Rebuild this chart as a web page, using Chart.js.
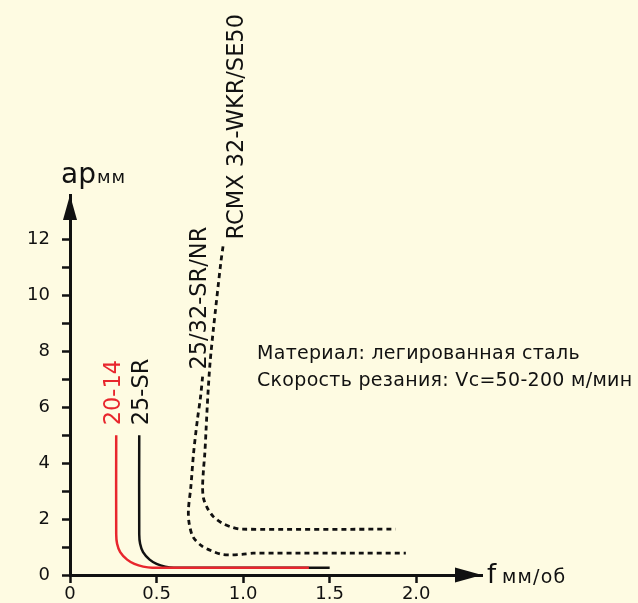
<!DOCTYPE html>
<html lang="ru">
<head>
<meta charset="UTF-8">
<title>Область применения: ap / f</title>
<script src="https://cdn.jsdelivr.net/npm/chart.js@4.4.0/dist/chart.umd.min.js"></script>
<style>
    body {
        margin: 0;
        background: #fefbe2;
    }
    canvas {
        display: block;
    }
</style>
</head>
<body>
<canvas id="chart" width="638" height="603"></canvas>
<script>
// подача f (мм/об) и глубина резания ap (мм) по каждой пластине
const feed2014 = [0.267, 0.267, 0.272, 0.29, 0.33, 0.372, 0.423, 0.475, 1.38];
const depth2014 = [5.0, 1.45, 1.12, 0.82, 0.55, 0.40, 0.30, 0.26, 0.26];

const feed25SR = [0.40, 0.40, 0.405, 0.422, 0.46, 0.50, 0.55, 0.60, 1.50];
const depth25SR = [5.0, 1.45, 1.12, 0.82, 0.55, 0.40, 0.30, 0.26, 0.26];

const feed2532 = [0.766, 0.754, 0.736, 0.714, 0.698, 0.684, 0.688, 0.711, 0.761, 0.819, 0.877, 0.925, 0.993, 1.058, 1.94];
const depth2532 = [7.1, 6.37, 5.56, 4.37, 3.15, 2.33, 1.86, 1.36, 1.04, 0.86, 0.74, 0.72, 0.74, 0.78, 0.78];

const feedRCMX = [0.884, 0.871, 0.828, 0.809, 0.796, 0.786, 0.779, 0.771, 0.766, 0.771, 0.794, 0.828, 0.877, 0.935, 0.993, 1.88];
const depthRCMX = [11.76, 11.17, 8.78, 7.59, 6.39, 5.2, 4.37, 3.76, 3.16, 2.75, 2.39, 2.09, 1.86, 1.71, 1.64, 1.64];

const seriesNames = ['20-14', '25-SR', '25/32-SR/NR', 'RCMX 32-WKR/SE50'];

const xTickValues = [0, 0.5, 1.0, 1.5, 2.0];
const xTickLabels = ['0', '0.5', '1.0', '1.5', '2.0'];
const yTickValues = [0, 1, 2, 3, 4, 5, 6, 7, 8, 9, 10, 11, 12];
const yTickLabels = ['0', '', '2', '', '4', '', '6', '', '8', '', '10', '', '12'];

const noteLines = ['Материал: легированная сталь', 'Скорость резания: Vc=50-200 м/мин'];

const FONT = "'DejaVu Sans', sans-serif";
const INK = '#111111';
const RED = '#e8262d';

function toPoints(xs, ys) {
    return xs.map((x, i) => ({ x: x, y: ys[i] }));
}

// подписи серий: сдвиг от первой точки кривой, текст повёрнут вертикально
const seriesLabels = [
    { dx: 4, dy: -10, color: RED },
    { dx: 9, dy: -10, color: INK },
    { dx: 3, dy: -7, color: INK },
    { dx: 20, dy: -7, color: INK }
];

const arrowsAndText = {
    id: 'arrowsAndText',
    afterDraw(chart) {
        const ctx = chart.ctx;
        const a = chart.chartArea;
        ctx.save();
        ctx.fillStyle = INK;

        // стрелки на концах осей
        ctx.beginPath();
        ctx.moveTo(a.left, a.top);
        ctx.lineTo(a.left - 7, a.top + 25);
        ctx.lineTo(a.left + 7, a.top + 25);
        ctx.closePath();
        ctx.fill();
        ctx.beginPath();
        ctx.moveTo(a.right, a.bottom);
        ctx.lineTo(a.right - 27, a.bottom - 7.5);
        ctx.lineTo(a.right - 27, a.bottom + 7.5);
        ctx.closePath();
        ctx.fill();

        // названия осей
        ctx.textBaseline = 'alphabetic';
        ctx.textAlign = 'left';
        ctx.font = '28px ' + FONT;
        ctx.fillText('ap', a.left - 9, a.top - 12);
        ctx.font = '18px ' + FONT;
        ctx.letterSpacing = '1px';
        ctx.fillText('мм', a.left + 27, a.top - 12);
        ctx.letterSpacing = '0px';
        ctx.font = '26px ' + FONT;
        ctx.fillText('f', a.right + 5, a.bottom + 8);
        ctx.font = '19px ' + FONT;
        ctx.letterSpacing = '1.2px';
        ctx.fillText('мм/об', a.right + 20, a.bottom + 8);

        // условия резания
        ctx.font = '19px ' + FONT;
        ctx.letterSpacing = '0.3px';
        ctx.fillText(noteLines[0], 257, 359);
        ctx.fillText(noteLines[1], 257, 386);
        ctx.letterSpacing = '0px';

        // вертикальные подписи над кривыми
        ctx.font = '22.5px ' + FONT;
        chart.data.datasets.forEach((ds, i) => {
            const p = chart.getDatasetMeta(i).data[0];
            const lab = seriesLabels[i];
            ctx.save();
            ctx.translate(p.x + lab.dx, p.y + lab.dy);
            ctx.rotate(-Math.PI / 2);
            ctx.fillStyle = lab.color;
            ctx.fillText(ds.label, 0, 0);
            ctx.restore();
        });
        ctx.restore();
    }
};

const lineBase = { showLine: true, pointRadius: 0, borderWidth: 2.5, tension: 0.3, fill: false };

new Chart(document.getElementById('chart'), {
    type: 'scatter',
    data: {
        datasets: [
            Object.assign({ label: seriesNames[0], data: toPoints(feed2014, depth2014), borderColor: RED }, lineBase),
            Object.assign({ label: seriesNames[1], data: toPoints(feed25SR, depth25SR), borderColor: INK }, lineBase),
            Object.assign({ label: seriesNames[2], data: toPoints(feed2532, depth2532), borderColor: INK, borderDash: [5, 4] }, lineBase, { borderWidth: 2.8 }),
            Object.assign({ label: seriesNames[3], data: toPoints(feedRCMX, depthRCMX), borderColor: INK, borderDash: [5, 4] }, lineBase, { borderWidth: 2.8 })
        ]
    },
    options: {
        responsive: false,
        animation: false,
        layout: { padding: { left: 0, top: 195, right: 156, bottom: 0 } },
        plugins: {
            legend: { display: false },
            tooltip: { enabled: false }
        },
        scales: {
            x: {
                type: 'linear',
                min: 0,
                max: 2.38,
                afterBuildTicks: s => { s.ticks = xTickValues.map(v => ({ value: v })); },
                afterFit: s => { s.height = 28; },
                border: { display: true, color: INK, width: 3 },
                grid: { drawOnChartArea: false, drawTicks: true, tickLength: 8, tickColor: INK, tickWidth: 2.5 },
                ticks: {
                    color: INK,
                    padding: 1,
                    maxRotation: 0,
                    font: { family: FONT, size: 18 },
                    callback: (v, i) => xTickLabels[i]
                }
            },
            y: {
                type: 'linear',
                min: 0,
                max: 13.6,
                afterBuildTicks: s => { s.ticks = yTickValues.map(v => ({ value: v })); },
                afterFit: s => { s.width = 70; },
                border: { display: true, color: INK, width: 3 },
                grid: { drawOnChartArea: false, drawTicks: true, tickLength: 8, tickColor: INK, tickWidth: 2.5 },
                ticks: {
                    color: INK,
                    padding: 12,
                    font: { family: FONT, size: 18 },
                    callback: (v, i) => yTickLabels[i]
                }
            }
        }
    },
    plugins: [arrowsAndText]
});
</script>
</body>
</html>
